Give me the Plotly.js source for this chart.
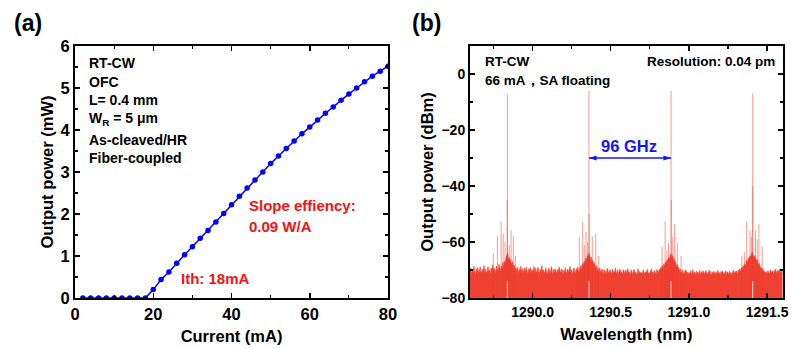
<!DOCTYPE html>
<html>
<head>
<meta charset="utf-8">
<script src="https://cdn.plot.ly/plotly-3.0.1.min.js"></script>
<style>html,body{margin:0;padding:0;background:#fff;}#chart{width:792px;height:349px;}</style>
</head>
<body>
<div id="chart"></div>
<script>
// ---------- Panel (a): L-I curve ----------
const currentMA = [2,4,6,8,10,12,14,16,18,20,22,24,26,28,30,32,34,36,38,40,42,44,46,48,50,52,54,56,58,60,62,64,66,68,70,72,74,76,78,80];
const powerMW = [0,0,0,0,0,0,0,0,0,0.20,0.44,0.62,0.83,1.03,1.22,1.42,1.61,1.81,2.01,2.22,2.42,2.62,2.81,3.00,3.20,3.38,3.56,3.74,3.91,4.07,4.24,4.40,4.55,4.71,4.86,5.00,5.15,5.28,5.40,5.52];

// ---------- Panel (b): optical spectrum ----------
const floorStartNm = 1289.6;
const floorStepNm = 0.005;
const floorDbm = [
-70.5,-69.2,-71.3,-69.8,-70.9,-68.7,-70.2,-71.6,-69.5,-70.8,-69.1,-71.0,-70.3,-68.9,-70.7,-71.4,-69.6,-70.1,-68.4,-70.9,
-69.7,-71.2,-70.4,-68.8,-70.6,-69.9,-71.5,-69.3,-70.2,-68.1,-70.8,-69.4,-70.0,-71.1,-68.6,-69.8,-70.5,-67.9,-69.2,-70.3,
-68.5,-69.6,-67.2,-68.9,-66.8,-67.5,-65.9,-64.6,-63.8,-65.2,-66.4,-65.7,-67.3,-68.0,-66.9,-68.7,-69.5,-68.2,-70.1,-69.3,
-70.6,-69.0,-71.3,-69.7,-70.4,-68.6,-70.9,-69.5,-71.2,-70.0,-69.3,-70.8,-68.9,-70.5,-71.4,-69.6,-70.2,-69.1,-70.7,-71.0,
-69.8,-70.5,-68.7,-70.9,-69.4,-71.2,-70.1,-69.0,-70.6,-71.5,-69.7,-70.3,-68.5,-70.8,-69.9,-71.1,-70.4,-69.2,-70.7,-71.3,
-70.0,-69.3,-71.0,-70.6,-68.8,-70.2,-71.4,-69.7,-70.9,-69.5,-70.3,-71.2,-69.8,-70.7,-68.9,-70.5,-71.1,-69.6,-70.1,-71.6,
-69.9,-70.8,-69.1,-71.3,-70.4,-69.6,-71.0,-70.2,-68.7,-70.9,-69.8,-71.4,-70.5,-69.2,-70.7,-71.1,-69.5,-70.3,-68.9,-70.6,
-70.2,-69.4,-68.3,-69.8,-67.6,-68.5,-66.9,-67.8,-65.7,-66.5,-64.8,-65.3,-63.9,-64.7,-66.2,-65.4,-67.1,-66.6,-68.2,-67.4,
-68.9,-69.7,-68.4,-70.3,-69.5,-70.8,-69.2,-71.0,-70.1,-69.6,-71.3,-70.4,-69.8,-70.9,-71.5,-70.0,-69.4,-71.1,-70.6,-69.9,
-70.7,-71.4,-69.6,-70.2,-71.0,-70.5,-69.3,-71.2,-70.8,-69.9,-71.6,-70.3,-69.7,-71.1,-70.6,-71.8,-69.8,-70.4,-71.3,-70.0,
-71.2,-70.1,-69.5,-71.0,-70.7,-71.5,-69.9,-70.6,-71.7,-70.3,-69.8,-71.1,-70.8,-71.9,-70.2,-69.6,-71.4,-70.5,-71.0,-70.9,
-71.3,-70.4,-69.9,-71.6,-70.7,-71.1,-70.0,-69.7,-71.5,-70.9,-71.2,-70.3,-69.6,-71.0,-70.6,-71.8,-70.1,-70.8,-71.4,-69.8,
-70.5,-71.0,-69.7,-70.2,-69.0,-69.8,-68.4,-69.1,-67.7,-68.6,-67.0,-67.9,-66.3,-66.9,-65.5,-66.1,-64.9,-64.2,-65.6,-64.8,
-66.4,-65.9,-67.5,-67.0,-68.6,-68.1,-69.4,-69.0,-70.3,-69.6,-70.8,-71.2,-70.0,-70.7,-71.5,-70.4,-69.9,-71.1,-70.6,-71.7,
-70.9,-71.3,-70.2,-71.8,-70.5,-69.8,-71.4,-70.7,-71.0,-72.0,-70.4,-71.2,-70.8,-71.6,-70.1,-71.9,-70.6,-71.3,-70.3,-71.1,
-71.5,-70.7,-70.2,-71.7,-70.9,-71.2,-70.0,-71.6,-70.5,-71.9,-70.8,-71.3,-70.4,-71.0,-71.8,-70.6,-71.4,-70.1,-71.2,-70.9,
-71.7,-70.5,-71.1,-70.3,-71.5,-70.8,-71.9,-70.2,-71.3,-70.6,-71.0,-71.6,-70.4,-71.2,-70.9,-71.8,-70.7,-70.1,-71.4,-70.5,
-71.0,-70.3,-71.5,-70.0,-70.8,-69.6,-70.4,-69.2,-69.9,-68.5,-69.3,-67.8,-68.6,-67.1,-66.5,-67.3,-65.6,-66.2,-64.9,-65.4,
-64.1,-63.5,-64.6,-65.3,-64.8,-66.0,-66.7,-66.1,-67.4,-68.2,-67.7,-68.9,-69.5,-69.0,-70.2,-69.7,-70.9,-70.4,-71.1,-70.6,
-71.3,-70.2,-70.8,-71.5,-69.9,-70.6,-71.0,-70.3,-71.4,-70.1,-70.7,-69.6,-71.2,-70.5,-70.0,-71.1,-69.8,-70.4,-70.9,-70.2,
-70.6
];
// comb lines and side modes (wavelength nm, peak dBm)
const modeWl = [
1289.839,1289.838,1289.799,1289.775,1289.824,1289.749,1289.863,1289.877,1289.812,1289.851,1289.890,
1290.361,1290.362,1290.321,1290.342,1290.299,1290.382,1290.404,1290.421,1290.331,1290.352,
1290.886,1290.887,1290.848,1290.909,1290.828,1290.870,1290.926,1290.950,1290.897,1290.860,
1291.408,1291.409,1291.370,1291.448,1291.391,1291.426,1291.355,1291.469,1291.338,1291.400,1291.437
];
const modeDbm = [
-7,-45,-52.7,-58,-60,-64,-55.7,-58,-57,-61,-65,
-6,-50,-52.7,-56.3,-58.3,-58,-57,-65,-61,-60,
-6,-45,-52.7,-53.6,-61.7,-60.4,-60.4,-65,-58,-63,
-7,-40,-52.7,-53.6,-56,-56,-63.5,-61.7,-65,-58,-59
];
const xTicksB = [1290.0, 1290.5, 1291.0, 1291.5];
const spacingLabel = '96 GHz';
const spacingArrowDbm = -30;

// ---------- build traces ----------
const floorWl = floorDbm.map((_, i) => +(floorStartNm + i * floorStepNm).toFixed(3));
const yBottom = -80;
const spikeX = [], spikeY = [];
modeWl.forEach((w, i) => { spikeX.push(w, w, null); spikeY.push(yBottom, modeDbm[i], null); });
const combX = [], combY = [];
modeWl.forEach((w, i) => { if (modeDbm[i] > -20) { combX.push(w, w, null); combY.push(yBottom, -74, null); } });
const combMain = modeWl.filter((w, i) => modeDbm[i] > -20);

const FONT = 'Liberation Sans, Arial, sans-serif';
const RED = '#ef4132';
const BLUE_T = '#1414ff';

const traces = [
  {x: currentMA, y: powerMW, xaxis: 'x', yaxis: 'y', type: 'scatter', mode: 'lines+markers',
   line: {color: '#0000ff', width: 1.5}, marker: {color: '#0000ff', size: 5.5}, hoverinfo: 'skip'},
  {x: [floorWl[0], floorWl[floorWl.length - 1]], y: [yBottom, yBottom], xaxis: 'x2', yaxis: 'y2',
   type: 'scatter', mode: 'lines', line: {width: 0, color: RED}, hoverinfo: 'skip'},
  {x: floorWl, y: floorDbm, xaxis: 'x2', yaxis: 'y2', type: 'scatter', mode: 'lines',
   fill: 'tonexty', fillcolor: RED, line: {color: 'rgba(239,65,50,0.75)', width: 0.8}, hoverinfo: 'skip'},
  {x: spikeX, y: spikeY, xaxis: 'x2', yaxis: 'y2', type: 'scatter', mode: 'lines',
   line: {color: 'rgba(238,55,45,0.5)', width: 1}, hoverinfo: 'skip'},
  {x: combX, y: combY, xaxis: 'x2', yaxis: 'y2', type: 'scatter', mode: 'lines',
   line: {color: 'rgba(255,235,235,0.9)', width: 1}, hoverinfo: 'skip'},
  // double-headed arrow between two adjacent comb lines
  {x: [combMain[1], combMain[2]], y: [spacingArrowDbm, spacingArrowDbm], xaxis: 'x2', yaxis: 'y2',
   type: 'scatter', mode: 'lines', line: {color: BLUE_T, width: 1.6}, hoverinfo: 'skip'},
  {x: [combMain[1], combMain[2]], y: [spacingArrowDbm, spacingArrowDbm], xaxis: 'x2', yaxis: 'y2',
   type: 'scatter', mode: 'markers', cliponaxis: false,
   marker: {symbol: 'arrow', angle: [-90, 90], size: 8, color: BLUE_T, line: {width: 0}}, hoverinfo: 'skip'}
];

const W = 792, H = 349;
const px = v => v / W, py = v => 1 - v / H;

const axisCommon = {
  showline: true, linecolor: '#000', linewidth: 2, mirror: 'allticks',
  ticks: 'inside', ticklen: 5, tickwidth: 1.5, tickcolor: '#000',
  showgrid: false, zeroline: false, fixedrange: true,
  tickfont: {family: FONT, size: 16.5, color: '#000', weight: 'bold'}
};
const titleFont = {family: FONT, size: 16.5, color: '#000', weight: 'bold'};

const layout = {
  width: W, height: H, margin: {l: 0, r: 0, t: 0, b: 0},
  paper_bgcolor: '#fff', plot_bgcolor: '#fff', showlegend: false,
  xaxis: Object.assign({}, axisCommon, {
    domain: [px(75), px(388)], range: [0, 80], tick0: 0, dtick: 20,
    minor: {ticks: 'inside', ticklen: 3, dtick: 10, tickcolor: '#000', tickwidth: 1.2},
    title: {text: 'Current (mA)', font: titleFont, standoff: 9}, anchor: 'y'
  }),
  yaxis: Object.assign({}, axisCommon, {
    domain: [py(298), py(46)], range: [0, 6], tick0: 0, dtick: 1,
    minor: {ticks: 'inside', ticklen: 3, dtick: 0.5, tickcolor: '#000', tickwidth: 1.2},
    title: {text: 'Output power (mW)', font: titleFont, standoff: 3}, anchor: 'x'
  }),
  xaxis2: Object.assign({}, axisCommon, {
    domain: [px(470), px(782.7)], range: [1289.6, 1291.6],
    tickmode: 'array', tickvals: xTicksB, ticktext: xTicksB.map(v => v.toFixed(1)),
    minor: {ticks: 'inside', ticklen: 3, dtick: 0.25, tick0: 1290, tickcolor: '#000', tickwidth: 1.2},
    tickfont: {family: FONT, size: 14, color: '#000', weight: 'bold'},
    title: {text: 'Wavelength (nm)', font: titleFont, standoff: 10}, anchor: 'y2'
  }),
  yaxis2: Object.assign({}, axisCommon, {
    domain: [py(298), py(46)], range: [-80, 10], tick0: 0, dtick: 20,
    minor: {ticks: 'inside', ticklen: 3, dtick: 10, tickcolor: '#000', tickwidth: 1.2},
    tickfont: {family: FONT, size: 14, color: '#000', weight: 'bold'},
    title: {text: 'Output power (dBm)', font: titleFont, standoff: 4}, anchor: 'x2'
  }),
  annotations: []
};

function txt(text, x, y, opts) {
  layout.annotations.push(Object.assign({
    text: text, x: px(x), y: py(y), xref: 'paper', yref: 'paper', showarrow: false,
    xanchor: 'left', yanchor: 'middle',
    font: {family: FONT, size: 14, color: '#000', weight: 'bold'}
  }, opts || {}));
}
txt('(a)', 12, 23, {font: {family: FONT, size: 23, color: '#000', weight: 'bold'}});
txt('(b)', 410, 23, {font: {family: FONT, size: 23, color: '#000', weight: 'bold'}});
const infoA = ['RT-CW', 'OFC', 'L= 0.4 mm', 'W<sub>R</sub> = 5 μm', 'As-cleaved/HR', 'Fiber-coupled'];
const infoAy = [63, 82, 100, 119, 140, 158];
infoA.forEach((t, i) => txt(t, 87, infoAy[i]));
const redFont = {family: FONT, size: 15, color: '#f01414', weight: 'bold'};
txt('Slope effiency:', 247, 205, {font: redFont});
txt('0.09 W/A', 247, 226, {font: redFont});
txt('Ith: 18mA', 179, 278, {font: redFont});
const fB = {family: FONT, size: 13.5, color: '#000', weight: 'bold'};
txt('RT-CW', 483, 62, {font: fB});
txt('66 mA，SA floating', 483, 80, {font: fB});
txt('Resolution: 0.04 pm', 777, 62, {font: fB, xanchor: 'right'});
txt(spacingLabel, 629, 146, {xanchor: 'center', font: {family: FONT, size: 16.5, color: BLUE_T, weight: 'bold'}});

Plotly.newPlot('chart', traces, layout, {displayModeBar: false, staticPlot: true});
</script>
</body>
</html>
